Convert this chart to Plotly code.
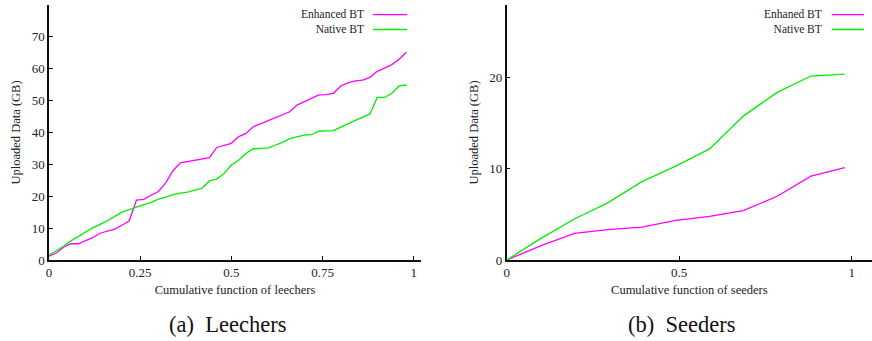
import plotly.graph_objects as go

# Leechers: cumulative fraction of peers vs uploaded data (GB)
leech_x = [0.00, 0.02, 0.04, 0.06, 0.08, 0.10, 0.12, 0.14, 0.16, 0.18,
           0.20, 0.22, 0.24, 0.26, 0.28, 0.30, 0.32, 0.34, 0.36, 0.38,
           0.40, 0.42, 0.44, 0.46, 0.48, 0.50, 0.52, 0.54, 0.56, 0.58,
           0.60, 0.62, 0.64, 0.66, 0.68, 0.70, 0.72, 0.74, 0.76, 0.78,
           0.80, 0.82, 0.84, 0.86, 0.88, 0.90, 0.92, 0.94, 0.96, 0.98]
leech_enhanced = [1.2, 2.2, 4.0, 5.1, 5.1, 6.0, 7.0, 8.4, 9.0, 9.7,
                  10.9, 12.3, 18.8, 19.0, 20.3, 21.5, 24.2, 28.0, 30.5, 30.9,
                  31.3, 31.8, 32.1, 35.3, 35.9, 36.6, 38.7, 39.7, 41.8, 42.7,
                  43.6, 44.6, 45.5, 46.5, 48.6, 49.7, 50.7, 51.8, 51.9, 52.3,
                  54.6, 55.6, 56.2, 56.4, 57.3, 59.2, 60.2, 61.3, 63.0, 65.2]
leech_native = [1.5, 2.8, 4.3, 6.0, 7.4, 8.8, 10.1, 11.2, 12.3, 13.7,
                15.0, 15.8, 16.7, 17.4, 18.1, 19.1, 19.7, 20.5, 21.0, 21.3,
                21.9, 22.5, 24.8, 25.4, 27.1, 29.8, 31.3, 33.4, 34.9, 35.0,
                35.1, 36.0, 36.9, 38.1, 38.6, 39.2, 39.3, 40.4, 40.5, 40.6,
                41.7, 42.8, 43.8, 44.8, 45.8, 51.0, 51.0, 52.3, 54.6, 54.9]

# Seeders
seed_x = [0.0, 0.098, 0.196, 0.294, 0.392, 0.490, 0.588, 0.686, 0.784, 0.882, 0.980]
seed_enhanced = [0.0, 1.55, 2.93, 3.33, 3.6, 4.36, 4.8, 5.42, 7.0, 9.2, 10.15]
seed_native = [0.0, 2.35, 4.5, 6.3, 8.6, 10.3, 12.2, 15.8, 18.4, 20.2, 20.4]

leech_xticks = [0, 0.25, 0.5, 0.75, 1]
leech_xlabels = ["0", "0.25", "0.5", "0.75", "1"]
leech_yticks = [0, 10, 20, 30, 40, 50, 60, 70]
seed_xticks = [0, 0.5, 1]
seed_xlabels = ["0", "0.5", "1"]
seed_yticks = [0, 10, 20]

MAGENTA = "#ff00ff"
GREEN = "#00ee00"
SERIF = "Liberation Serif"
W, H = 872, 341

fig = go.Figure()
fig.add_trace(go.Scatter(x=leech_x, y=leech_enhanced, mode="lines", name="Enhanced BT",
                         line=dict(color=MAGENTA, width=1.3), xaxis="x", yaxis="y"))
fig.add_trace(go.Scatter(x=leech_x, y=leech_native, mode="lines", name="Native BT",
                         line=dict(color=GREEN, width=1.3), xaxis="x", yaxis="y"))
fig.add_trace(go.Scatter(x=seed_x, y=seed_enhanced, mode="lines", name="Enhaned BT",
                         line=dict(color=MAGENTA, width=1.3), xaxis="x2", yaxis="y2"))
fig.add_trace(go.Scatter(x=seed_x, y=seed_native, mode="lines", name="Native BT",
                         line=dict(color=GREEN, width=1.3), xaxis="x2", yaxis="y2"))

ydom = [1 - 260 / H, 1 - 5 / H]
tickfont = dict(family=SERIF, size=13, color="#222")
titlefont = dict(family=SERIF, size=12.5, color="#222")
common_x = dict(showline=True, linecolor="#111", linewidth=1.5, ticks="inside",
                ticklen=4, tickwidth=1, tickcolor="#111", showgrid=False,
                zeroline=False, tickfont=tickfont, automargin=False)
common_y = dict(common_x)

fig.update_layout(
    width=W, height=H, margin=dict(l=0, r=0, t=0, b=0),
    paper_bgcolor="white", plot_bgcolor="white", showlegend=False,
    font=dict(family=SERIF),
    xaxis=dict(common_x, domain=[49 / W, 421 / W], range=[0, 1.02],
               tickvals=leech_xticks, ticktext=leech_xlabels, anchor="y",
               title=dict(text="Cumulative function of leechers", font=titlefont, standoff=6)),
    yaxis=dict(common_y, domain=ydom, range=[0, 80], tickvals=leech_yticks, anchor="x",
               title=dict(text="Uploaded Data (GB)", font=titlefont, standoff=8)),
    xaxis2=dict(common_x, domain=[506.7 / W, 1.0], range=[0, 1.059],
                tickvals=seed_xticks, ticktext=seed_xlabels, anchor="y2",
                title=dict(text="Cumulative function of seeders", font=titlefont, standoff=6)),
    yaxis2=dict(common_y, domain=ydom, range=[0, 28], tickvals=seed_yticks, anchor="x2",
                title=dict(text="Uploaded Data (GB)", font=titlefont, standoff=8)),
)

# Keys drawn to the right of right-aligned labels, gnuplot style
KEY_FS = 11.5
KEY_CY = 22
half = 1.3 * KEY_FS / 2
keys = [
    (["Enhanced BT", "Native BT"], [MAGENTA, GREEN], 366, 373, 407),
    (["Enhaned BT", "Native BT"], [MAGENTA, GREEN], 823.7, 831.7, 864),
]
for labels, colors, tx, x0, x1 in keys:
    fig.add_annotation(x=tx / W, y=1 - KEY_CY / H, xref="paper", yref="paper",
                       text="<br>".join(labels), align="right",
                       showarrow=False, xanchor="right", yanchor="middle",
                       font=dict(family=SERIF, size=KEY_FS, color="#222"))
    for color, yy in zip(colors, [KEY_CY - half, KEY_CY + half]):
        fig.add_shape(type="line", xref="paper", yref="paper", x0=x0 / W, x1=x1 / W,
                      y0=1 - yy / H, y1=1 - yy / H, line=dict(color=color, width=1.3))

# Sub-figure captions
for text, cx in [("(a)  Leechers", 227), ("(b)  Seeders", 681)]:
    fig.add_annotation(x=cx / W, y=1 - 324 / H, xref="paper", yref="paper", text=text,
                       showarrow=False, xanchor="center", yanchor="middle",
                       font=dict(family=SERIF, size=22.5, color="#111"))

fig.write_html("out.html")
